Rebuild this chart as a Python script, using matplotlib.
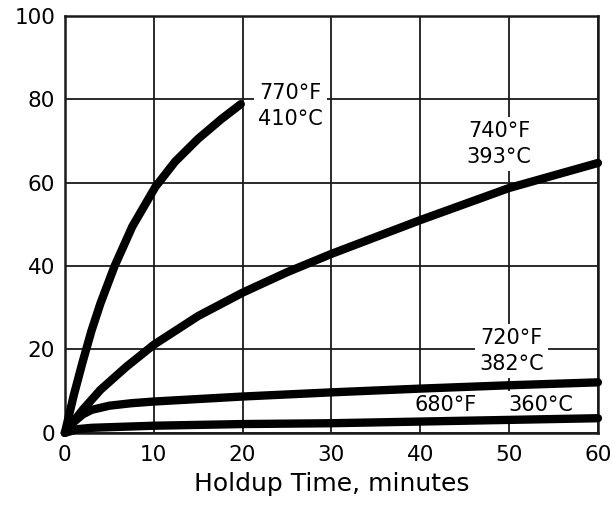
import matplotlib
matplotlib.use("Agg")
import matplotlib.pyplot as plt

# Holdup time (minutes) vs. conversion (%) at four temperatures
x_770 = [0, 1, 2, 3, 4, 5.6, 7.6, 10.2, 12.4, 15, 17.6, 19.8]
y_770 = [0, 9, 17, 24.5, 31, 40, 49.5, 59, 65, 70.5, 75.2, 78.8]

x_740 = [0, 2, 4, 6.9, 10, 15, 20, 25, 30, 40, 50, 60]
y_740 = [0, 5.5, 10.3, 15.8, 21.1, 28.0, 33.6, 38.5, 42.9, 51.0, 58.7, 64.7]

x_720 = [0, 1, 2, 3, 5, 7.5, 10, 20, 30, 40, 50, 60]
y_720 = [0, 2.6, 4.4, 5.5, 6.5, 7.1, 7.5, 8.7, 9.7, 10.6, 11.4, 12.1]

x_680 = [0, 1.5, 3, 10, 20, 30, 40, 50, 60]
y_680 = [0, 0.9, 1.2, 1.7, 2.1, 2.3, 2.7, 3.1, 3.5]

x_ticks = [0, 10, 20, 30, 40, 50, 60]
y_ticks = [0, 20, 40, 60, 80, 100]

plt.rcParams["font.family"] = ["DejaVu Sans"]

fig = plt.figure(figsize=(6.12, 5.08), dpi=100)
ax = fig.add_axes([0.106, 0.148, 0.871, 0.821])

for xs, ys in [(x_770, y_770), (x_740, y_740), (x_720, y_720), (x_680, y_680)]:
    ax.plot(xs, ys, color="black", lw=6, solid_capstyle="round",
            solid_joinstyle="round", zorder=5, clip_on=False)

ax.set_xlim(0, 60)
ax.set_ylim(0, 100)
ax.set_xticks(x_ticks)
ax.set_yticks(y_ticks)
ax.tick_params(length=0, labelsize=15.5)
ax.tick_params(axis="x", pad=9)
ax.tick_params(axis="y", pad=7)
ax.grid(True, color="#1a1a1a", lw=1.3)
ax.set_axisbelow(True)
for s in ax.spines.values():
    s.set_linewidth(1.8)
    s.set_color("#1a1a1a")

ax.set_xlabel("Holdup Time, minutes", fontsize=18, labelpad=5)

box = dict(facecolor="white", edgecolor="none", pad=3)
label_kw = dict(fontsize=15, ha="center", va="center", linespacing=1.35,
                bbox=box, zorder=4)
ax.text(25.4, 78.4, "770°F\n410°C", **label_kw)
ax.text(48.9, 69.3, "740°F\n393°C", **label_kw)
ax.text(50.3, 19.6, "720°F\n382°C", **label_kw)
ax.text(42.9, 6.6, "680°F", **label_kw)
ax.text(53.6, 6.6, "360°C", **label_kw)

fig.savefig("out.png", dpi=100)
